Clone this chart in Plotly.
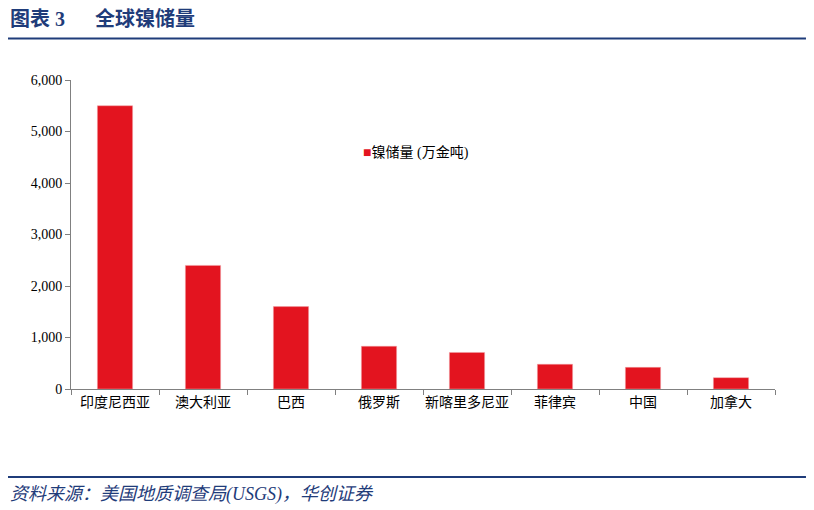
import plotly.graph_objects as go

# 全球镍储量 (万金吨)
countries = ["印度尼西亚", "澳大利亚", "巴西", "俄罗斯", "新喀里多尼亚", "菲律宾", "中国", "加拿大"]
reserves = [5500, 2400, 1600, 830, 710, 480, 420, 220]
series_name = "镍储量 (万金吨)"

serif = "Liberation Serif, Noto Sans CJK SC, serif"
blue = "#1F3C7A"
red = "#E3141F"

fig = go.Figure()
fig.add_trace(go.Bar(
    x=countries,
    y=reserves,
    name=series_name,
    marker=dict(color=red, line=dict(color="#F0A0A5", width=0.5)),
    showlegend=False,
))

# the page puts the plot 8px in from the corner, so margins are shifted
fig.update_layout(
    width=814,
    height=510,
    plot_bgcolor="white",
    paper_bgcolor="white",
    margin=dict(l=63, r=47, t=72, b=129),
    bargap=0.6,
    font=dict(family=serif, size=13, color="black"),
)

fig.update_yaxes(
    range=[0, 6000],
    dtick=1000,
    tickformat=",",
    showgrid=False,
    zeroline=False,
    showline=True,
    linecolor="#808080",
    linewidth=1,
    ticks="outside",
    ticklen=5,
    tickcolor="#808080",
    tickfont=dict(family=serif, size=14, color="black"),
)
fig.update_xaxes(
    showgrid=False,
    showline=True,
    linecolor="#808080",
    linewidth=1,
    ticks="outside",
    ticklen=5,
    tickcolor="#808080",
    tickson="boundaries",
    tickangle=0,
    tickfont=dict(family=serif, size=14, color="black"),
)

# legend drawn as text so the small square sits close to the label
fig.add_annotation(
    text=f'<span style="color:{red}">■</span>{series_name}',
    xref="paper", yref="paper", x=0.412, y=0.764,
    xanchor="left", yanchor="middle", showarrow=False,
    font=dict(family=serif, size=14, color="black"),
)

# 标题和来源
fig.add_annotation(
    text="<b>图表 3      全球镍储量</b>",
    xref="paper", yref="paper", x=-0.0895, y=1.2,
    xanchor="left", yanchor="middle", showarrow=False,
    font=dict(family=serif, size=20, color=blue),
)
fig.add_annotation(
    text="<i>资料来源：美国地质调查局(USGS)，华创证券</i>",
    xref="paper", yref="paper", x=-0.0895, y=-0.34,
    xanchor="left", yanchor="middle", showarrow=False,
    font=dict(family=serif, size=18, color=blue),
)
fig.add_shape(type="line", xref="paper", yref="paper",
              x0=-0.0895, x1=1.044, y0=1.134, y1=1.134,
              line=dict(color=blue, width=2))
fig.add_shape(type="line", xref="paper", yref="paper",
              x0=-0.0895, x1=1.044, y0=-0.285, y1=-0.285,
              line=dict(color=blue, width=2))

fig.write_html("out.html")
